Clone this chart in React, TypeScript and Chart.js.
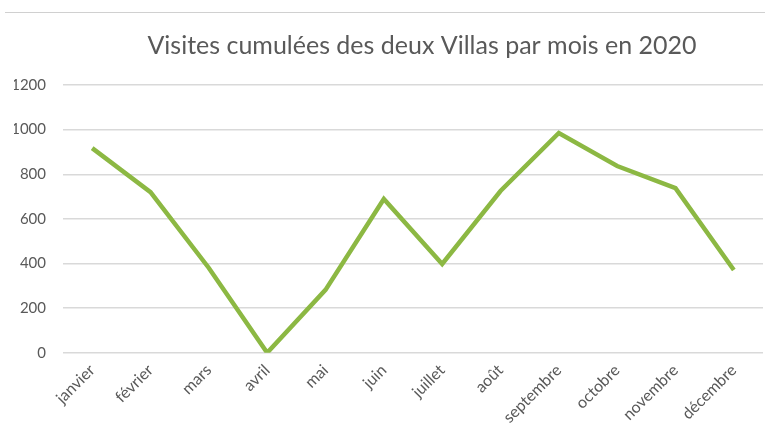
import React, { useEffect, useRef } from "react";
import { Chart, registerables } from "chart.js";

Chart.register(...registerables);

const months = [
  "janvier", "février", "mars", "avril", "mai", "juin",
  "juillet", "août", "septembre", "octobre", "novembre", "décembre",
];
const visits = [917, 720, 380, 0, 282, 689, 398, 725, 985, 837, 738, 371];
const yTicks = [0, 200, 400, 600, 800, 1000, 1200];
const titleText = "Visites cumulées des deux Villas par mois en 2020";

const FONT = "Lato, 'Open Sans', sans-serif";
const GREY = "#595959";

const titleShift = {
  id: "titleShift",
  afterLayout(chart: any) {
    const t = chart.titleBlock;
    if (t) {
      t.left += 9;
      t.right += 9;
    }
  },
};

export default function App() {
  const ref = useRef<HTMLCanvasElement | null>(null);
  useEffect(() => {
    document.body.style.margin = "0";
    const ctx = ref.current!.getContext("2d")!;
    const chart = new Chart(ctx, {
      type: "line",
      data: {
        labels: months,
        datasets: [
          {
            data: visits,
            borderColor: "#8CB843",
            borderWidth: 4.5,
            pointRadius: 0,
            tension: 0,
            fill: false,
          },
        ],
      },
      plugins: [titleShift],
      options: {
        animation: false,
        responsive: false,
        layout: {
          autoPadding: false,
          padding: { top: 20, right: 2, left: 14, bottom: -7 },
        },
        plugins: {
          legend: { display: false },
          tooltip: { enabled: false },
          title: {
            display: true,
            text: titleText,
            fullSize: false,
            color: GREY,
            font: { family: FONT, size: 25, weight: "normal" },
            padding: { top: 11, bottom: 24 },
          },
        },
        scales: {
          x: {
            offset: true,
            afterFit: (s: any) => {
              s.paddingLeft = 0;
              s.paddingRight = 0;
            },
            grid: { display: false, drawTicks: false },
            border: { display: false },
            ticks: {
              color: GREY,
              font: { family: FONT, size: 16 },
              maxRotation: 45,
              minRotation: 45,
              padding: 8,
            },
          },
          y: {
            min: 0,
            max: 1200,
            afterBuildTicks: (axis: any) => {
              axis.ticks = yTicks.map((v) => ({ value: v }));
            },
            afterFit: (s: any) => {
              s.width = 49;
            },
            grid: { color: "#d9d9d9", lineWidth: 1.5, drawTicks: false },
            border: { display: false },
            ticks: {
              color: GREY,
              font: { family: FONT, size: 15 },
              padding: 17,
              callback: (v: any) => String(v),
            },
          },
        },
      },
    });
    return () => chart.destroy();
  }, []);
  return (
    <div style={{ position: "relative", width: 765, height: 428 }}>
      <div
        style={{
          position: "absolute",
          left: 5,
          right: 0,
          top: 12,
          borderTop: "1.5px solid #d0d0d0",
        }}
      />
      <canvas ref={ref} width={765} height={428} />
    </div>
  );
}
